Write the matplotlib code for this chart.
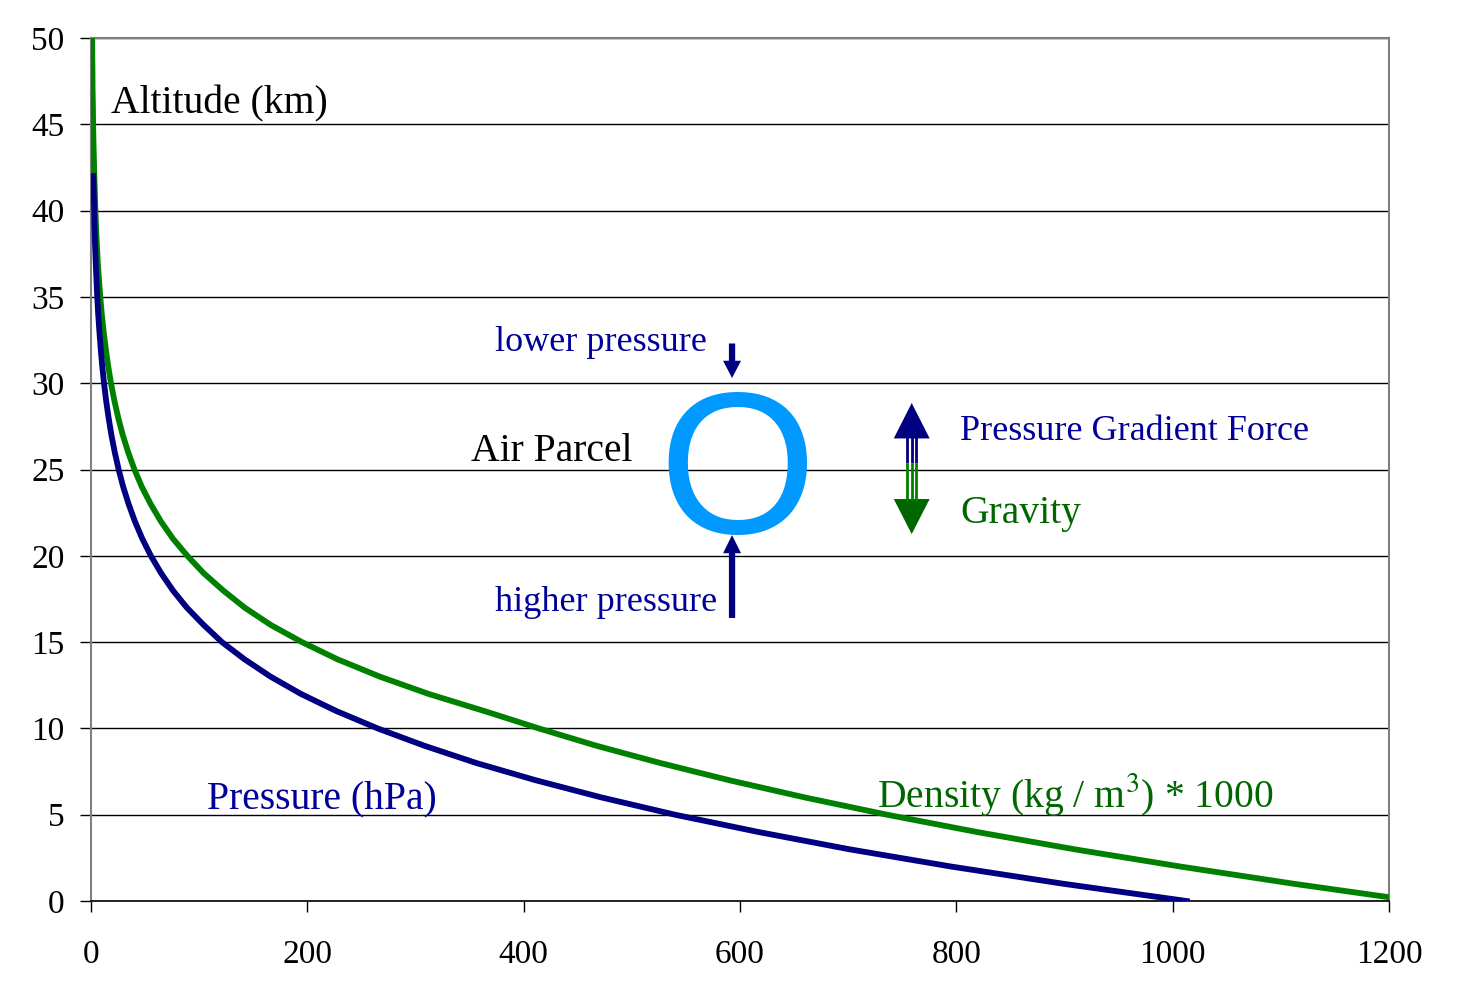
import numpy as np
import matplotlib.pyplot as plt

# altitude (km) and values
alt_p = list(range(0, 43))
pressure = [1013, 899, 795, 701, 617, 540, 472, 411, 356, 308,
            265, 227, 194, 166, 142, 121, 104, 88.5, 75.6, 64.7,
            55.3, 47.3, 40.5, 34.7, 29.7, 25.5, 21.9, 18.8, 16.2, 13.9,
            12.0, 10.3, 8.9, 7.7, 6.6, 5.7, 5.0, 4.3, 3.7, 3.2,
            2.9, 2.5, 2.1]

alt_d = list(range(0, 51))
density = [1225, 1112, 1007, 909, 819, 736, 660, 590, 526, 467,
           414, 364, 312, 267, 228, 195, 166, 142, 122, 104,
           89, 75.6, 64.5, 55.1, 46.9, 40.1, 34.3, 29.3, 25.1, 21.5,
           18.4, 15.8, 13.6, 11.6, 9.9, 8.5, 7.3, 6.2, 5.4, 4.6,
           4.0, 3.5, 3.0, 2.6, 2.2, 1.9, 1.7, 1.4, 1.3, 1.1, 1.0]

x_ticks = [0, 200, 400, 600, 800, 1000, 1200]
y_ticks = [0, 5, 10, 15, 20, 25, 30, 35, 40, 45, 50]

NAVY = '#000080'
GREEN = '#008000'
TXT_BLUE = '#000099'
TXT_GREEN = '#006600'

plt.rcParams['font.family'] = ['Liberation Serif', 'DejaVu Serif']

fig = plt.figure(figsize=(14.64, 9.81), dpi=100)
ax = fig.add_axes([0.0622, 0.0815, 0.8866, 0.8798])

ax.plot(density, alt_d, color=GREEN, lw=4.2, solid_joinstyle='miter', zorder=3)
ax.plot(pressure, alt_p, color=NAVY, lw=4.2, solid_joinstyle='miter', zorder=3)

ax.set_xlim(0, 1200)
ax.set_ylim(0, 50)
ax.set_xticks(x_ticks)
ax.set_yticks(y_ticks)
ax.yaxis.grid(True, color='black', lw=1.0)
ax.set_axisbelow(True)
ax.tick_params(axis='both', labelsize=24, length=8, width=1.0, direction='out', color='black')
ax.tick_params(axis='x', pad=20)
ax.tick_params(axis='y', pad=11)

for side in ['top', 'right', 'left']:
    ax.spines[side].set_color('#808080')
    ax.spines[side].set_linewidth(1.5)
ax.spines['bottom'].set_color('black')
ax.spines['bottom'].set_linewidth(1.2)

# labels
ax.text(18.5, 46.17, 'Altitude (km)', fontsize=28.5, color='black', va='center', ha='left')
ax.text(373.5, 32.38, 'lower pressure', fontsize=26, color=TXT_BLUE, va='center', ha='left')
ax.text(351, 26.03, 'Air Parcel', fontsize=28.5, color='black', va='center', ha='left')
ax.text(373.5, 17.3, 'higher pressure', fontsize=26, color=TXT_BLUE, va='center', ha='left')
ax.text(803.4, 27.23, 'Pressure Gradient Force', fontsize=26, color=TXT_BLUE, va='center', ha='left')
ax.text(803.4, 22.43, 'Gravity', fontsize=28.5, color=TXT_GREEN, va='center', ha='left')
ax.text(107.2, 5.93, 'Pressure (hPa)', fontsize=28.5, color=TXT_BLUE, va='center', ha='left')
ax.text(726.6, 6.15, 'Density (kg / m$^3$) * 1000', fontsize=28.5, color=TXT_GREEN,
        va='center', ha='left', math_fontfamily='stix')

# air parcel
ax.text(597, 24.39, 'O', fontsize=146, color='#0099FF', family='Liberation Sans',
        va='center', ha='center')

# pressure arrows
px = 592.6
ax.arrow(px, 32.3, 0, 30.3 - 32.3, width=5.8, head_width=16.6, head_length=1.0,
         length_includes_head=True, color=NAVY, lw=0)
ax.arrow(px, 16.4, 0, 21.2 - 16.4, width=5.8, head_width=16.6, head_length=1.05,
         length_includes_head=True, color=NAVY, lw=0)

# force arrows (double-line shafts)
fx = 758.7
for off in (-4.2, 0, 4.2):
    ax.plot([fx + off, fx + off], [26.9, 25.38], color=NAVY, lw=2.0, solid_capstyle='butt')
    ax.plot([fx + off, fx + off], [25.38, 23.2], color=GREEN, lw=2.0, solid_capstyle='butt')
ax.fill([fx - 16.6, fx + 16.6, fx], [26.8, 26.8, 28.85], color=NAVY, lw=0)
ax.fill([fx - 16.6, fx + 16.6, fx], [23.29, 23.29, 21.26], color=TXT_GREEN, lw=0)

fig.savefig('out.png', dpi=100)
